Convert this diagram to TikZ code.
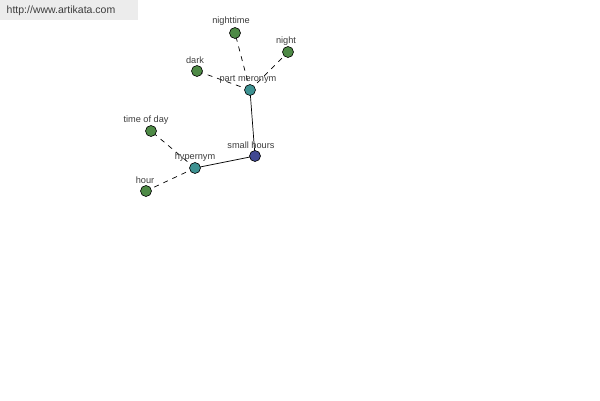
\documentclass[tikz,border=0pt]{standalone}
\usepackage{fontspec}
\setmainfont{Liberation Sans}
\definecolor{leaf}{RGB}{78,138,70}
\definecolor{rel}{RGB}{62,146,146}
\definecolor{root}{RGB}{64,72,146}
\definecolor{banner}{RGB}{236,236,236}
\definecolor{txt}{RGB}{60,60,60}
\begin{document}
\begin{tikzpicture}[x=1pt,y=-1pt,
  dot/.style={circle,draw=black,line width=0.6pt,minimum size=11pt,inner sep=0pt},
  lbl/.style={font=\fontsize{9.2}{10}\selectfont,text=txt,inner sep=0.5pt},
  rel line/.style={dash pattern=on 5pt off 5pt,line width=0.7pt},
  solid line/.style={line width=0.7pt}]
\useasboundingbox (0,0) rectangle (600,400);
\fill[banner] (0,0) rectangle (138,20);
\node[font=\fontsize{10.5}{12}\selectfont,text=txt] (site) at (61,10.5) {http://www.artikata.com};
% edges
\coordinate (shc) at (255,156);
\coordinate (pmc) at (250,90);
\coordinate (hyc) at (195,168);
\coordinate (ntc) at (235,33);
\coordinate (nic) at (288,52);
\coordinate (dkc) at (197,71);
\coordinate (tdc) at (151,131);
\coordinate (hrc) at (146,191);
\draw[solid line] (shc) -- (pmc);
\draw[solid line] (shc) -- (hyc);
\draw[rel line] (pmc) -- (ntc);
\draw[rel line] (pmc) -- (nic);
\draw[rel line] (pmc) -- (dkc);
\draw[rel line] (hyc) -- (tdc);
\draw[rel line] (hyc) -- (hrc);
% labels
\node[lbl] (shl) at (251,145) {small hours};
\node[lbl] (pml) at (248,79) {part meronym};
\node[lbl] (hyl) at (195,157) {hypernym};
\node[lbl] (ntl) at (231,21) {nighttime};
\node[lbl] (nil) at (286,41) {night};
\node[lbl] (dkl) at (195,60) {dark};
\node[lbl] (tdl) at (146,120) {time of day};
\node[lbl] (hrl) at (145,180) {hour};
% nodes
\node[dot,fill=root] (sh) at (shc) {};
\node[dot,fill=rel] (pm) at (pmc) {};
\node[dot,fill=rel] (hy) at (hyc) {};
\node[dot,fill=leaf] (nt) at (ntc) {};
\node[dot,fill=leaf] (ni) at (nic) {};
\node[dot,fill=leaf] (dk) at (dkc) {};
\node[dot,fill=leaf] (td) at (tdc) {};
\node[dot,fill=leaf] (hr) at (hrc) {};
\end{tikzpicture}
\end{document}
